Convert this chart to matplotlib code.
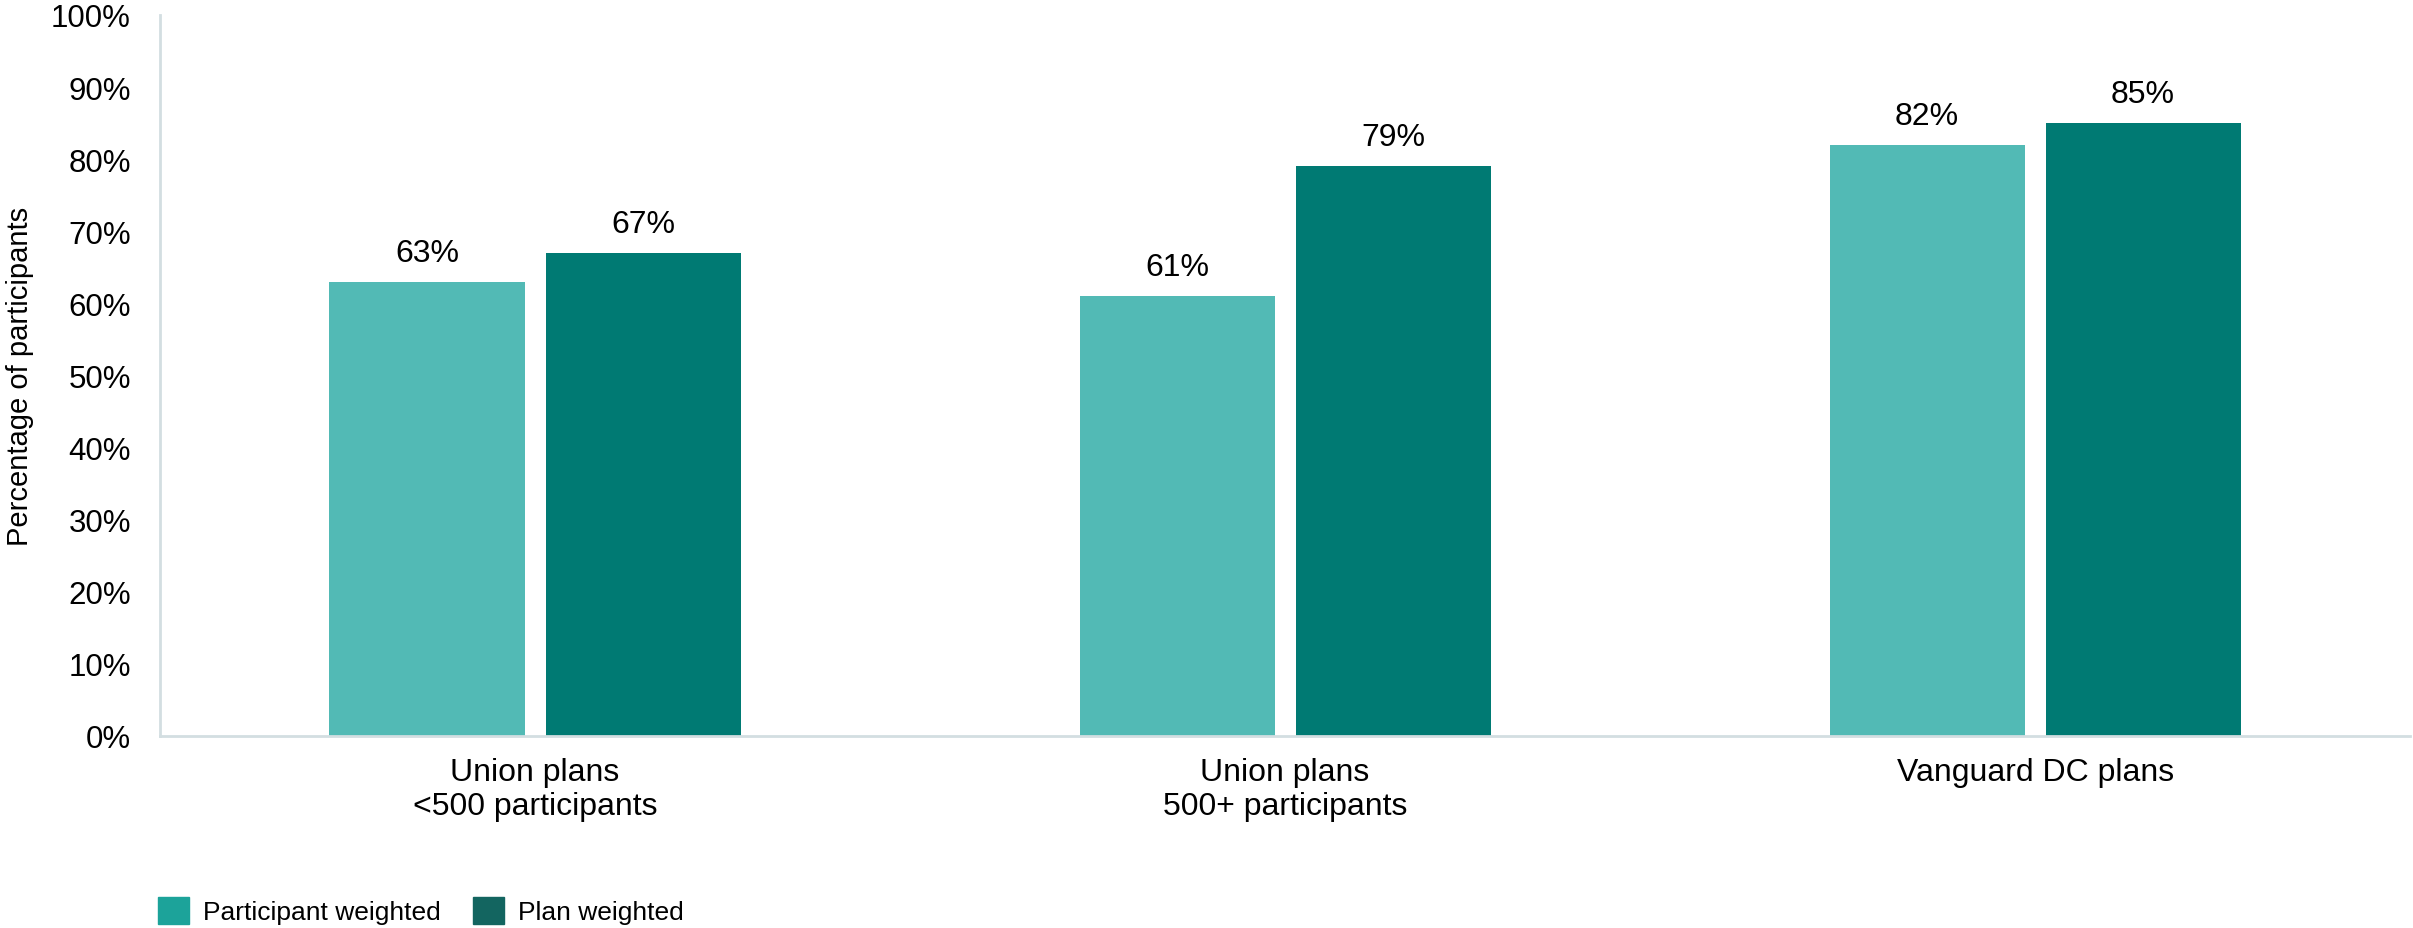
import numpy as np
import matplotlib.pyplot as plt
from matplotlib.patches import Patch

plt.rcParams['font.family'] = ['Liberation Sans', 'DejaVu Sans']

categories = ["Union plans\n<500 participants", "Union plans\n500+ participants", "Vanguard DC plans"]
participant_weighted = [63, 61, 82]
plan_weighted = [67, 79, 85]
series_names = ["Participant weighted", "Plan weighted"]
yticks = np.arange(0, 101, 10)

light = "#52bab5"
dark = "#007a73"
light_legend = "#1ca39a"
dark_legend = "#136560"
spine_col = "#d3dee1"

fig = plt.figure(figsize=(24.13, 9.29), dpi=100)
ax = fig.add_axes([0.0663, 0.2067, 0.9325, 0.7761])

x = np.arange(len(categories))
w = 0.26
off = 0.144
b1 = ax.bar(x - off, participant_weighted, w, color=light)
b2 = ax.bar(x + off, plan_weighted, w, color=dark)

# value labels above each bar
for bars, vals in [(b1, participant_weighted), (b2, plan_weighted)]:
    for b, v in zip(bars, vals):
        ax.annotate(f"{v}%", (b.get_x() + b.get_width() / 2, v),
                    xytext=(0, 10), textcoords="offset points",
                    ha="center", va="bottom", fontsize=23)

ax.set_xlim(-0.5, 2.5)
ax.set_ylim(0, 100)
ax.set_yticks(yticks)
ax.set_yticklabels([f"{t}%" for t in yticks])
ax.set_xticks(x)
ax.set_xticklabels(categories)
ax.tick_params(axis="y", length=0, pad=21, labelsize=22.5)
ax.tick_params(axis="x", length=0, pad=15, labelsize=23)
ax.set_ylabel("Percentage of participants", fontsize=21, labelpad=12)

for s in ["top", "right"]:
    ax.spines[s].set_visible(False)
for s in ["left", "bottom"]:
    ax.spines[s].set_color(spine_col)
    ax.spines[s].set_linewidth(2)

handles = [Patch(color=light_legend), Patch(color=dark_legend)]
fig.legend(handles, series_names, loc="lower left", bbox_to_anchor=(0.064, 0.0),
           ncol=2, frameon=False, fontsize=19, handlelength=1.17, handleheight=1.21,
           handletextpad=0.53, columnspacing=1.21, borderaxespad=0.0, borderpad=0.15)

fig.savefig("out.png", dpi=100)
